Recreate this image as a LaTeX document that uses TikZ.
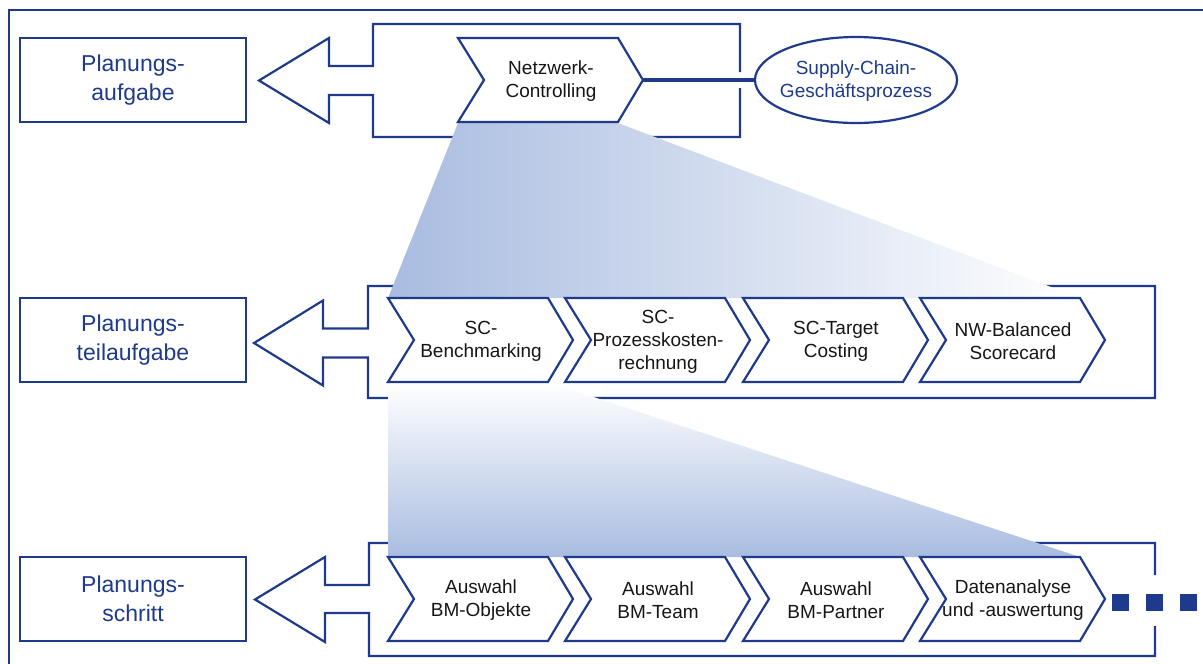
\documentclass[tikz,border=0pt]{standalone}
\usepackage{fontspec}
\setmainfont{Liberation Sans}
\usetikzlibrary{shapes.geometric}
\definecolor{navy}{RGB}{30,58,140}
\definecolor{gblue}{RGB}{169,188,224}
\definecolor{txt}{RGB}{22,22,22}
\tikzset{
  ln/.style={draw=navy, line width=2.2pt, line join=miter},
  chevline/.style={draw=navy, line width=2.2pt, fill=white, line join=miter},
  chevtext/.style={text=txt, align=center, inner sep=0pt, font=\fontsize{19}{23}\selectfont},
  levelbox/.style={draw=navy, line width=2.2pt, minimum width=226pt, minimum height=84pt, inner sep=0pt, text=navy, align=center, font=\fontsize{23}{29}\selectfont},
  procell/.style={ellipse, draw=navy, line width=2.2pt, minimum width=202pt, minimum height=86pt, inner sep=0pt},
  proctext/.style={text=navy, align=center, inner sep=0pt, font=\fontsize{19}{23}\selectfont},
  dotbox/.style={fill=navy, minimum size=17pt, inner sep=0pt, draw=none},
}
\newcommand\mychev[5]{%
  \draw[chevline] (#2,#3) -- ++(160,0) -- ({#2+185},{(#3+#4)/2}) -- ({#2+160},#4) -- (#2,#4) -- ({#2+26},{(#3+#4)/2}) -- cycle;
  \node[chevtext] (#1) at ({#2+93},{(#3+#4)/2+1.5}) {#5};
}
\begin{document}
\begin{tikzpicture}[x=1pt,y=-1pt]
\useasboundingbox (0,0) rectangle (1203,664);
\clip (0,0) rectangle (1203,664);
% outer frame
\draw[ln] (9,10) rectangle (1240,700);
% left level boxes
\node[levelbox] (lb1) at (133,80) {Planungs-\\aufgabe};
\node[levelbox] (lb2) at (133,340) {Planungs-\\teilaufgabe};
\node[levelbox] (lb3) at (133,599) {Planungs-\\schritt};
% arrow + bracket row 1
\draw[ln] (740,72) -- (740,24) -- (373,24) -- (373,66) -- (329,66) -- (329,38) -- (259,80.5) -- (329,123) -- (329,95) -- (373,95) -- (373,137) -- (740,137) -- (740,88);
% arrow + bracket row 2
\draw[ln] (368,328.5) -- (368,286) -- (1155,286) -- (1155,398) -- (368,398) -- (368,357.5) -- (323,357.5) -- (323,385.5) -- (254,343) -- (323,300.5) -- (323,328.5) -- cycle;
% arrow + bracket row 3
\draw[ln] (1155,575) -- (1155,543) -- (369,543) -- (369,585) -- (325,585) -- (325,557) -- (255,599.5) -- (325,642) -- (325,613) -- (369,613) -- (369,656) -- (1155,656) -- (1155,626);
% gradient trapezoids
\shade[left color=gblue, right color=white] (458,123) -- (618,123) -- (1080,298) -- (388,298) -- cycle;
\shade[top color=white, bottom color=gblue] (388,382) -- (548,382) -- (1080,557) -- (388,557) -- cycle;
% chevrons
\mychev{nc}{458}{38}{122}{Netzwerk-\\Controlling}
\mychev{bm}{388}{298}{382}{SC-\\Benchmarking}
\mychev{pk}{565}{298}{382}{SC-\\Prozesskosten-\\rechnung}
\mychev{tc}{743}{298}{382}{SC-Target\\Costing}
\mychev{bsc}{920}{298}{382}{NW-Balanced\\Scorecard}
\mychev{ao}{388}{557}{641}{Auswahl\\BM-Objekte}
\mychev{at}{565}{557}{641}{Auswahl\\BM-Team}
\mychev{ap}{743}{557}{641}{Auswahl\\BM-Partner}
\mychev{da}{920}{557}{641}{Datenanalyse\\und -auswertung}
% process ellipse and connector
\node[procell] (scp) at (856,80) {};
\node[proctext] (scpt) at (856,81.5) {Supply-Chain-\\Geschäftsprozess};
\coordinate (nctip) at (643,80);
\draw[draw=navy, line width=4pt] (nctip) -- (scp.west);
% continuation dots
\node[dotbox] (d1) at (1120.5,602.5) {};
\node[dotbox] (d2) at (1154.5,602.5) {};
\node[dotbox] (d3) at (1188.5,602.5) {};
\end{tikzpicture}
\end{document}
